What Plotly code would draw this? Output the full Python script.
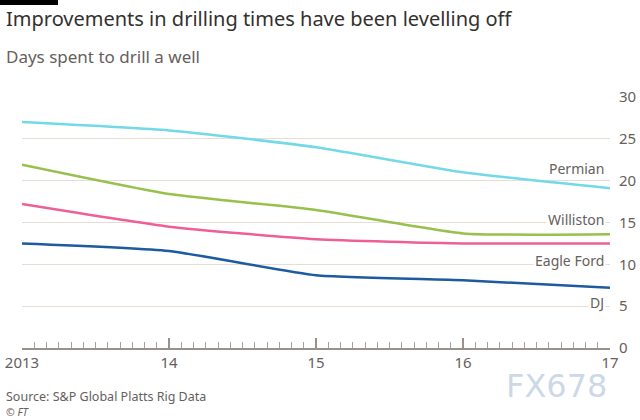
import plotly.graph_objects as go

years = [2013, 2014, 2015, 2016, 2017]
permian = [27.0, 26.0, 24.0, 21.0, 19.1]
williston = [21.9, 18.4, 16.5, 13.7, 13.6]
eagle_ford = [17.2, 14.5, 13.0, 12.5, 12.5]
dj = [12.5, 11.6, 8.7, 8.1, 7.2]
tick_alias = {"2014": "14", "2015": "15", "2016": "16", "2017": "17"}
y_ticks = [0, 5, 10, 15, 20, 25, 30]

series = [
    ("Permian", permian, "#72d9e6", 21.5),
    ("Williston", williston, "#97c14c", 15.4),
    ("Eagle Ford", eagle_ford, "#ef5f96", 10.4),
    ("DJ", dj, "#1d5aa0", 5.4),
]

FONT = "Noto Sans"
fig = go.Figure()
for name, vals, col, ly in series:
    fig.add_trace(go.Scatter(x=years, y=vals, mode="lines", name=name,
                             line=dict(color=col, width=2.5, shape="spline", smoothing=0.5),
                             showlegend=False))
    fig.add_annotation(x=2016.97, y=ly, text=name, showarrow=False, xanchor="right",
                       yanchor="middle", bgcolor="white", borderpad=1,
                       font=dict(family=FONT, size=14, color="#66605c"))

fig.update_layout(
    width=640, height=420,
    margin=dict(l=22, r=30, t=97, b=72),
    paper_bgcolor="white", plot_bgcolor="white",
    xaxis=dict(range=[2013, 2017], tickmode="linear", tick0=2013, dtick=1, tickformat="d",
               labelalias=tick_alias, automargin=False, layer="above traces",
               showgrid=False, zeroline=False, showline=True, linecolor="#9a918b", linewidth=1.5,
               ticks="inside", ticklen=10, tickwidth=1.5, tickcolor="#9a918b",
               minor=dict(ticks="inside", tickmode="linear", tick0=2013, dtick=1/12, ticklen=6,
                          tickwidth=1, tickcolor="#a8a09a", showgrid=False),
               tickfont=dict(family=FONT, size=15, color="#66605c"), fixedrange=True),
    yaxis=dict(range=[0, 30], tickvals=y_ticks, side="right", showgrid=True, automargin=False,
               gridcolor="#e6ddd5", gridwidth=1, zeroline=True, zerolinecolor="#a8a09a",
               zerolinewidth=1.5, showline=False,
               ticks="", ticklabelstandoff=8, tickfont=dict(family=FONT, size=15, color="#66605c")),
)

def py(p):
    return (348 - p) / 251

def px(p):
    return (p - 22) / 588

fig.add_shape(type="rect", xref="paper", yref="paper", x0=px(0), x1=px(58),
              y0=py(5), y1=py(0), fillcolor="black", line_width=0)
fig.add_annotation(xref="paper", yref="paper", x=px(4), y=py(18), xanchor="left", yanchor="middle",
                   text="Improvements in drilling times have been levelling off", showarrow=False,
                   font=dict(family=FONT, size=20, color="#33302e"))
fig.add_annotation(xref="paper", yref="paper", x=px(4), y=py(57), xanchor="left", yanchor="middle",
                   text="Days spent to drill a well", showarrow=False,
                   font=dict(family=FONT, size=17, color="#66605c"))
fig.add_annotation(xref="paper", yref="paper", x=px(4), y=py(396), xanchor="left", yanchor="middle",
                   text="Source: S&P Global Platts Rig Data", showarrow=False,
                   font=dict(family=FONT, size=12.5, color="#66605c"))
fig.add_annotation(xref="paper", yref="paper", x=px(4), y=py(412), xanchor="left", yanchor="middle",
                   text="© <i>FT</i>", showarrow=False,
                   font=dict(family=FONT, size=10.5, color="#66605c"))
fig.add_annotation(xref="paper", yref="paper", x=px(609), y=py(386), xanchor="right", yanchor="middle",
                   text="FX678", showarrow=False,
                   font=dict(family="DejaVu Sans", size=32, color="rgba(170,190,215,0.6)"))

fig.write_html("out.html")
